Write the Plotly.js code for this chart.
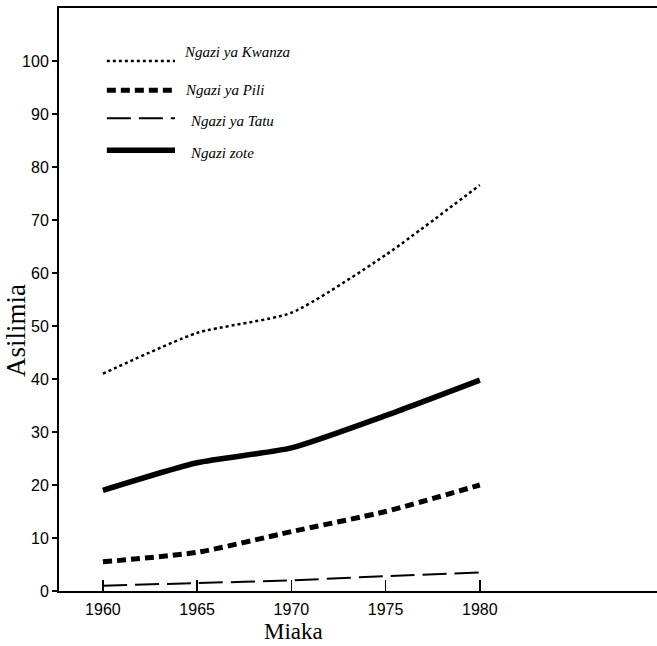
<!DOCTYPE html>
<html>
<head>
<meta charset="utf-8">
<script src="https://cdn.plot.ly/plotly-3.0.1.min.js"></script>
<style>html,body{margin:0;padding:0;background:#fff;}#chart{width:657px;height:646px;}</style>
</head>
<body>
<div id="chart"></div>
<script>
const years = [1960, 1965, 1970, 1975, 1980];
const kwanza = [41, 48.7, 52.5, 63.4, 76.6];
const pili = [5.5, 7.3, 11.2, 15.0, 20.0];
const tatu = [1.0, 1.5, 2.0, 2.8, 3.5];
const zote = [19.0, 24.2, 27.0, 33.1, 39.8];
const seriesNames = ["Ngazi ya Kwanza", "Ngazi ya Pili", "Ngazi ya Tatu", "Ngazi zote"];
const yTicks = [0, 10, 20, 30, 40, 50, 60, 70, 80, 90, 100];
const xTitle = "Miaka";
const yTitle = "Asilimia";

const styles = [
  {width: 2.5, dash: "dot"},
  {width: 5, dash: "9px,5px"},
  {width: 2, dash: "24px,8px"},
  {width: 5.5, dash: "solid"}
];
const allY = [kwanza, pili, tatu, zote];

const traces = allY.map((ys, i) => ({
  x: years, y: ys, name: seriesNames[i], type: "scatter", mode: "lines",
  line: {color: "#000", width: styles[i].width, dash: styles[i].dash, shape: "spline", smoothing: 0.6},
  showlegend: false, hoverinfo: "skip"
}));

// legend drawn as paper-space samples + labels
const legY = [0.909, 0.859, 0.811, 0.756];
const legTextY = [0.925, 0.859, 0.807, 0.752];
const legTextX = [0.206, 0.207, 0.215, 0.215];
const shapes = [];
const annotations = [];
seriesNames.forEach((n, i) => {
  shapes.push({type: "line", xref: "paper", yref: "paper",
    x0: 0.080, x1: 0.194, y0: legY[i], y1: legY[i],
    line: {color: "#000", width: styles[i].width, dash: styles[i].dash}});
  annotations.push({xref: "paper", yref: "paper", x: legTextX[i], y: legTextY[i],
    xanchor: "left", yanchor: "middle", text: n, showarrow: false,
    font: {family: "Liberation Serif, Times New Roman, serif", size: 15, color: "#000", style: "italic"}});
});
annotations.push({xref: "paper", yref: "paper", x: 0.392, y: -0.069, xanchor: "center", yanchor: "middle",
  text: xTitle, showarrow: false,
  font: {family: "Liberation Serif, Times New Roman, serif", size: 23, color: "#000"}});
annotations.push({xref: "paper", yref: "paper", x: -0.071, y: 0.447, xanchor: "center", yanchor: "middle",
  text: yTitle, showarrow: false, textangle: -90,
  font: {family: "Liberation Serif, Times New Roman, serif", size: 27, color: "#000"}});

const layout = {
  width: 657, height: 646,
  margin: {l: 59, r: 0, t: 8, b: 55},
  paper_bgcolor: "#fff", plot_bgcolor: "#fff",
  showlegend: false,
  xaxis: {
    range: [1957.67, 1989.4], tickvals: years, ticktext: years.map(String),
    ticks: "inside", ticklen: 11, tickwidth: 1.5, tickcolor: "#000",
    showline: true, linecolor: "#000", linewidth: 2, mirror: true,
    showgrid: false, zeroline: false,
    tickfont: {family: "Liberation Sans, Arial, sans-serif", size: 16, color: "#000"},
    ticklabelstandoff: 3
  },
  yaxis: {
    range: [0, 110], tickvals: yTicks, ticktext: yTicks.map(String),
    ticks: "outside", ticklen: 5, tickwidth: 1.5, tickcolor: "#000",
    showline: true, linecolor: "#000", linewidth: 2,
    showgrid: false, zeroline: false,
    tickfont: {family: "Liberation Sans, Arial, sans-serif", size: 16, color: "#000"}
  },
  shapes: shapes,
  annotations: annotations
};

Plotly.newPlot("chart", traces, layout, {staticPlot: true, displayModeBar: false});
</script>
</body>
</html>
